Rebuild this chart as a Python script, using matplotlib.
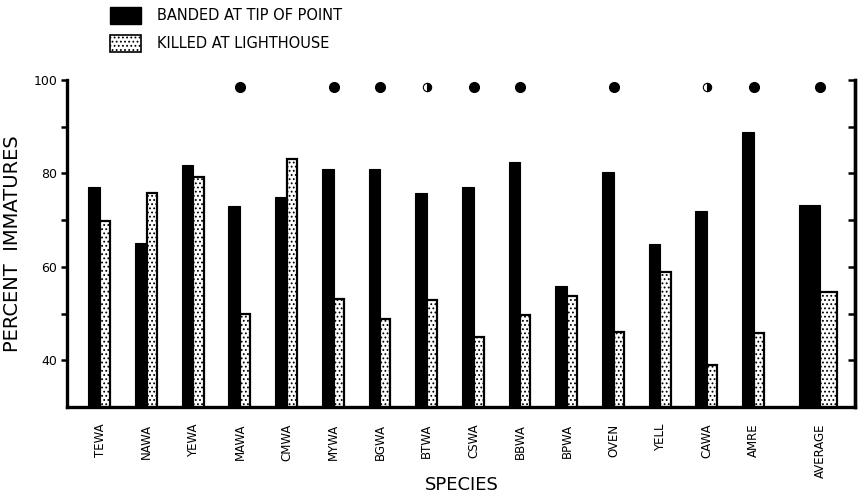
import numpy as np
import matplotlib
matplotlib.use("Agg")
import matplotlib.pyplot as plt
from matplotlib.patches import Patch

plt.rcParams['font.family'] = ['DejaVu Sans']
plt.rcParams['hatch.linewidth'] = 0.8

species = ['TEWA', 'NAWA', 'YEWA', 'MAWA', 'CMWA', 'MYWA', 'BGWA', 'BTWA',
           'CSWA', 'BBWA', 'BPWA', 'OVEN', 'YELL', 'CAWA', 'AMRE', 'AVERAGE']
banded = [77.0, 65.1, 81.8, 73.0, 74.9, 81.0, 80.9, 75.8,
          77.0, 82.5, 55.9, 80.2, 64.9, 72.0, 88.9, 73.2]
killed = [69.8, 75.8, 79.2, 49.9, 83.0, 53.1, 48.9, 52.9,
          45.0, 49.7, 53.8, 46.0, 58.8, 39.0, 45.8, 54.6]
# significance symbols above the bars: full dot, half dot or nothing
signif = ['', '', '', 'full', '', 'full', 'full', 'half',
          'full', 'full', '', 'full', '', 'half', 'full', 'full']

x = np.append(np.arange(15), 15.42)
wb = np.array([0.25] * 15 + [0.45])
wk = np.array([0.22] * 15 + [0.36])

fig = plt.figure(figsize=(8.64, 4.99), dpi=100)
ax = fig.add_axes([0.0775, 0.1844, 0.912, 0.6553])

ax.bar(x - wb, banded, width=wb, align='edge', color='black',
       edgecolor='black', linewidth=0.8, zorder=2)
ax.bar(x, killed, width=wk, align='edge', color='white', edgecolor='black',
       hatch='....', linewidth=1.6, zorder=2)

for xi, s in zip(x, signif):
    if s == 'full':
        ax.plot(xi, 98.5, 'o', color='black', markersize=7, zorder=3)
    elif s == 'half':
        ax.plot(xi, 98.5, 'o', markersize=6, fillstyle='right',
                markerfacecolor='black', markerfacecoloralt='white',
                markeredgecolor='black', markeredgewidth=0.8, zorder=3)

ax.set_xlim(-0.71, 16.17)
ax.set_ylim(30, 100)
ax.set_yticks([40, 60, 80, 100])
ax.set_yticks([50, 70, 90], minor=True)
ax.set_yticklabels(['40', '60', '80', '100'], fontsize=9)
ax.tick_params(axis='y', which='both', direction='out', length=4, width=1.8,
               pad=3)
ax.set_xticks(x)
ax.set_xticklabels(species, rotation=90, fontsize=8.5)
ax.tick_params(axis='x', length=0, pad=12)

for side in ['left', 'right', 'bottom']:
    ax.spines[side].set_linewidth(2.4)
ax.spines['top'].set_visible(False)

# right axis: same scale, ticks pointing inward, no labels
ax2 = ax.twinx()
ax2.set_ylim(30, 100)
ax2.set_yticks([40, 50, 60, 70, 80, 90, 100])
ax2.set_yticklabels([])
ax2.tick_params(axis='y', direction='in', length=5, width=1.8)
for side in ['left', 'top', 'bottom']:
    ax2.spines[side].set_visible(False)
ax2.spines['right'].set_linewidth(2.4)

ax.set_ylabel('PERCENT  IMMATURES', fontsize=14, labelpad=8)
fig.text(0.535, 0.028, 'SPECIES', fontsize=13, ha='center', va='center')

handles = [Patch(facecolor='black', edgecolor='black'),
           Patch(facecolor='white', edgecolor='black', hatch='....', linewidth=1.2)]
fig.legend(handles, ['BANDED AT TIP OF POINT', 'KILLED AT LIGHTHOUSE'],
           loc='upper left', bbox_to_anchor=(0.112, 1.012), frameon=False,
           fontsize=10.5, handlelength=2.1, handleheight=1.4, labelspacing=0.75,
           handletextpad=1.1)

fig.savefig('out.png', dpi=100)
